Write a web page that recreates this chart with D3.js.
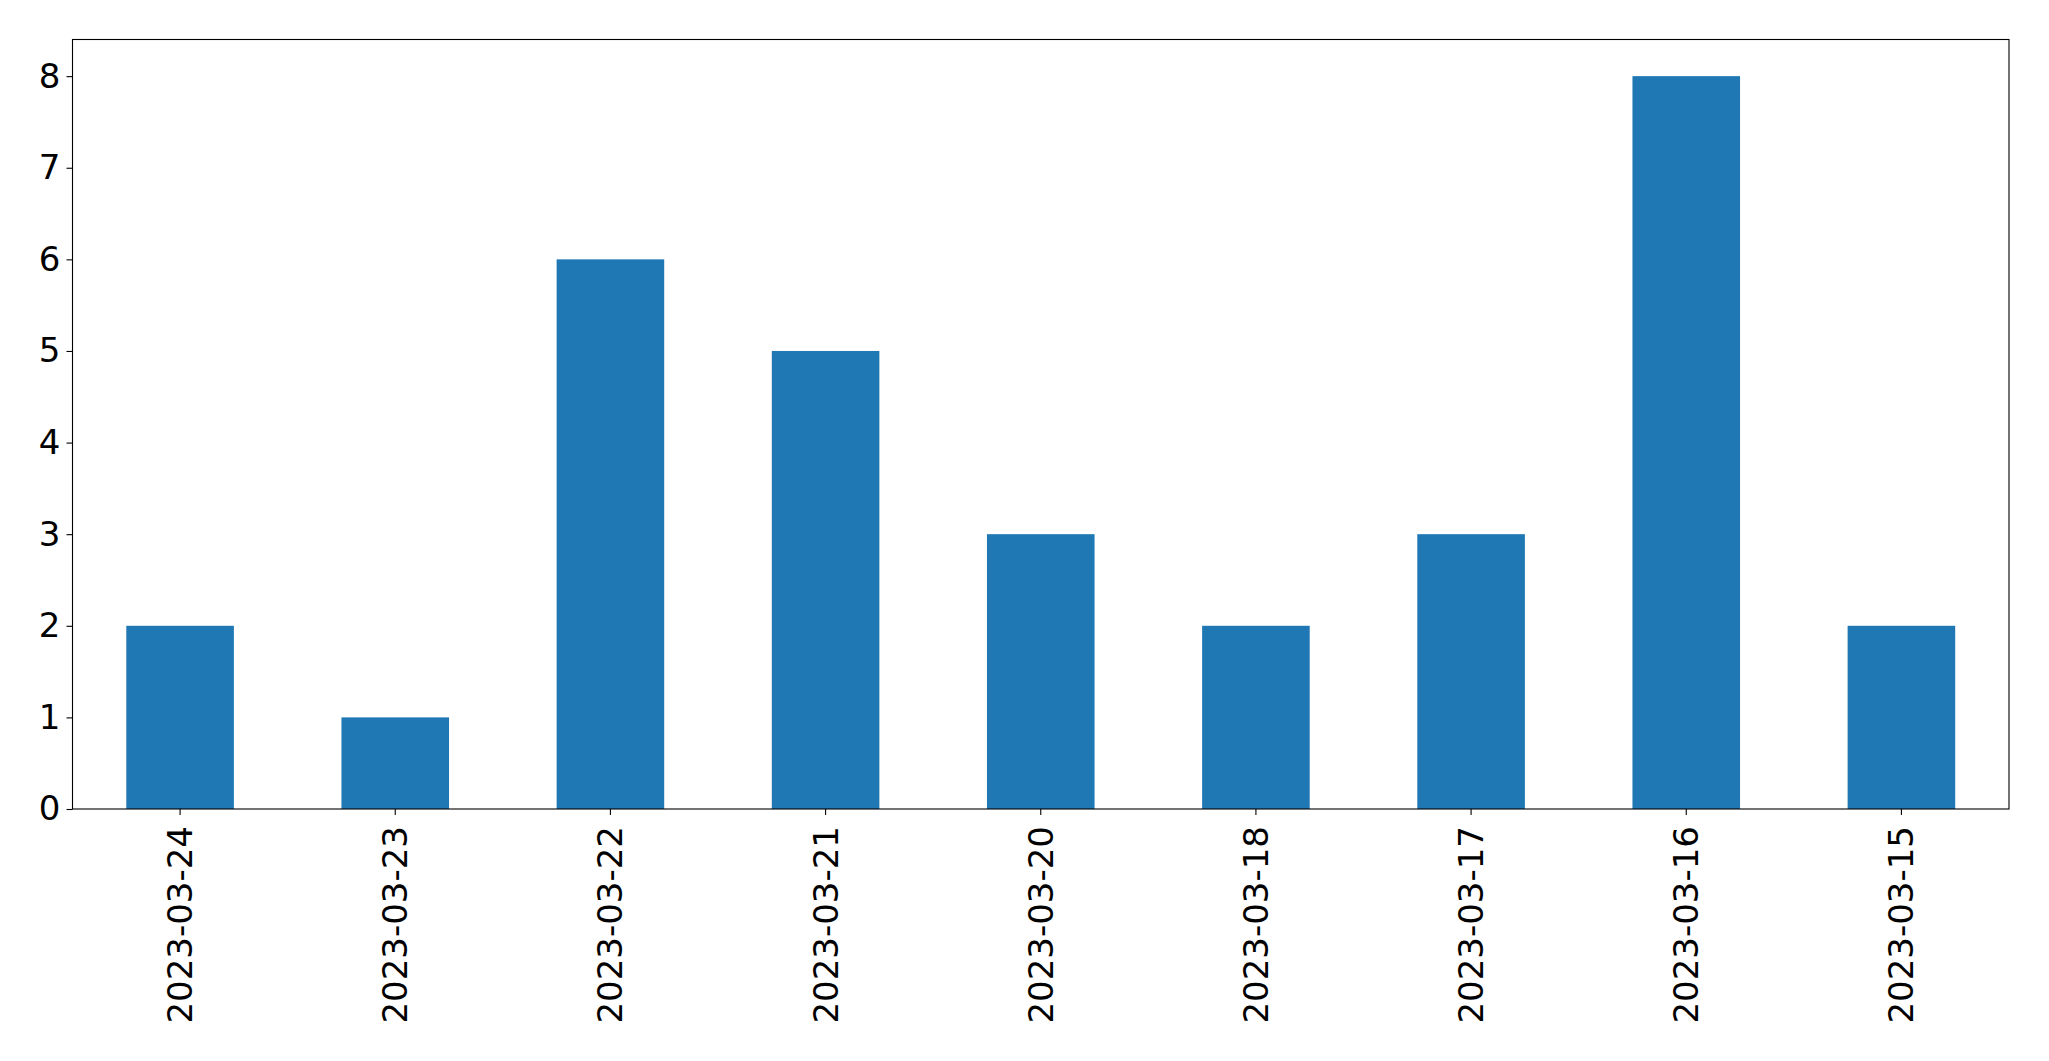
<!DOCTYPE html>
<html><head><meta charset="utf-8">
<script src="https://cdn.jsdelivr.net/npm/d3@7"></script>
<style>body{margin:0;background:#fff;} svg{display:block;}</style>
</head><body>
<script>
const categories = ["2023-03-24","2023-03-23","2023-03-22","2023-03-21","2023-03-20","2023-03-18","2023-03-17","2023-03-16","2023-03-15"];
const values = [2,1,6,5,3,2,3,8,2];
const yTicks = [0,1,2,3,4,5,6,7,8];

(function(){
const W = 2049, H = 1061;
const mLeft = 72.5, mRight = 2009, mTop = 39.5, mBottom = 809;
const svg = d3.select("body").append("svg").attr("width", W).attr("height", H);

const x = d3.scaleBand().domain(categories).range([mLeft, mRight]).paddingInner(0.5).paddingOuter(0.25);
const y = d3.scaleLinear().domain([0, 8.4]).range([mBottom, mTop]);

svg.append("g").selectAll("rect").data(values).join("rect")
  .attr("x", (d,i) => x(categories[i]))
  .attr("width", x.bandwidth())
  .attr("y", d => y(d))
  .attr("height", d => y(0) - y(d))
  .attr("fill", "#1f77b4");

const font = "'DejaVu Sans', sans-serif";
const yAxis = svg.append("g").attr("transform", `translate(${mLeft},0)`)
  .call(d3.axisLeft(y).tickValues(yTicks).tickFormat(d3.format("d")).tickSize(6).tickPadding(6));
yAxis.select(".domain").remove();
yAxis.selectAll("text").attr("font-family", font).attr("font-size", 34).attr("fill", "#000");
yAxis.selectAll("line").attr("stroke", "#000").attr("stroke-width", 1.1);

const xAxis = svg.append("g").attr("transform", `translate(0,${mBottom})`)
  .call(d3.axisBottom(x).tickSize(6).tickPadding(0));
xAxis.select(".domain").remove();
xAxis.selectAll("line").attr("stroke", "#000").attr("stroke-width", 1.1);
xAxis.selectAll("text")
  .attr("font-family", font).attr("font-size", 34).attr("fill", "#000")
  .attr("text-anchor", "end")
  .attr("dy", null).attr("y", null)
  .attr("transform", "translate(0,17) rotate(-90)")
  .attr("dominant-baseline", "central");

svg.append("rect").attr("x", mLeft).attr("y", mTop).attr("width", mRight-mLeft).attr("height", mBottom-mTop)
  .attr("fill", "none").attr("stroke", "#000").attr("stroke-width", 1.1);
})();
</script>
</body></html>
